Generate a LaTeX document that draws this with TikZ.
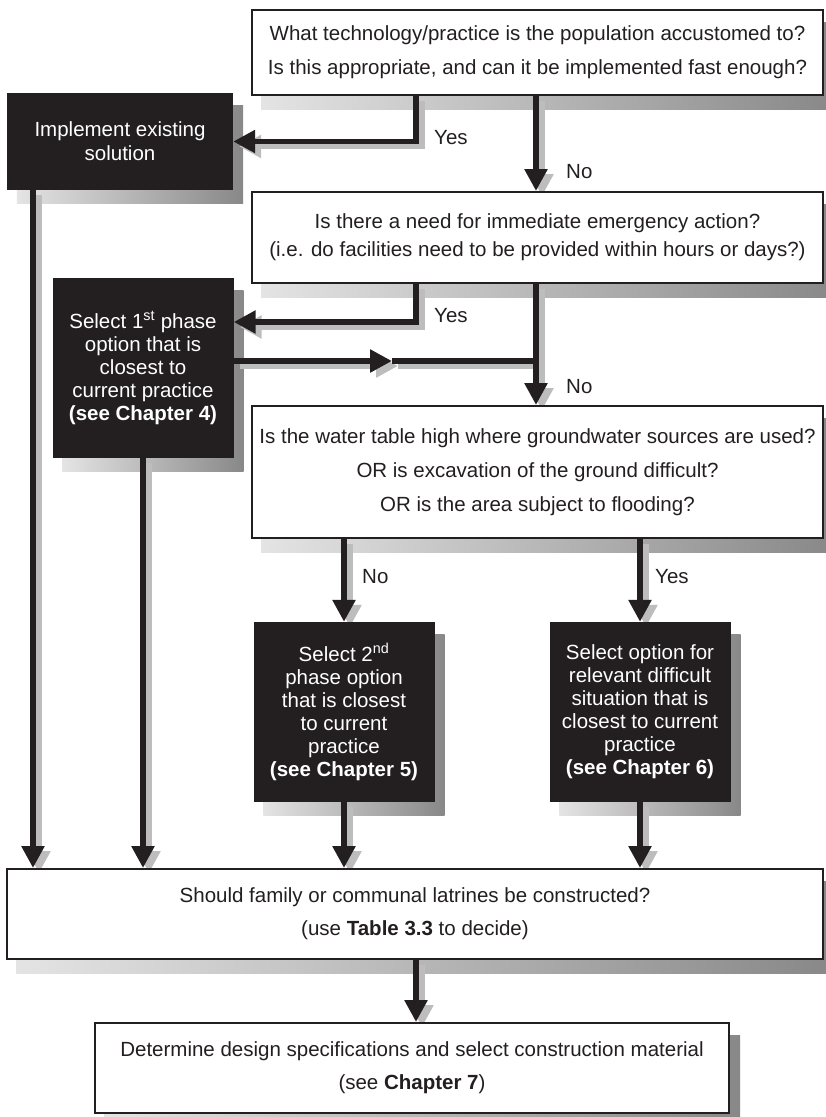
\documentclass[tikz,border=0pt]{standalone}
\usepackage{fontspec}
\setmainfont{Liberation Sans}
\usetikzlibrary{arrows.meta,backgrounds,calc}

\definecolor{ink}{HTML}{231F20}
\definecolor{shadelight}{HTML}{E4E4E4}
\definecolor{shadedark}{HTML}{888888}
\definecolor{lineshade}{HTML}{BDBDBD}

\newcommand{\qfont}[1]{\fontsize{20.5}{#1}\selectfont}

\tikzset{
  question/.style={draw=ink, line width=2pt, fill=white, text=ink, align=center, inner sep=0pt},
  action/.style={fill=ink, text=white, align=center, inner sep=0pt, minimum width=181pt, minimum height=180pt, font=\qfont{23}},
  conn/.style={draw=ink, line width=5.5pt, -{Triangle[length=22pt,width=22pt]}},
  connshade/.style={conn, draw=lineshade, transform canvas={shift={(6pt,-5pt)}}},
  answer/.style={text=ink, anchor=west, inner sep=0pt, font=\qfont{24}},
}

\begin{document}
\begin{tikzpicture}[x=1pt,y=-1pt]
  \useasboundingbox (0,0) rectangle (826,1117);

  % boxes
  \node[question, minimum width=571pt, minimum height=85pt, font=\qfont{34}] (q1) at (537.5,52.5)
    {What technology/practice is the population accustomed to?\\Is this appropriate, and can it be implemented fast enough?};
  \node[action, minimum width=226pt, minimum height=97pt, font=\qfont{24}] (impl) at (120,141.5)
    {Implement existing\\solution};
  \node[question, minimum width=571pt, minimum height=91pt, font=\qfont{28}] (q2) at (537.5,237.5)
    {Is there a need for immediate emergency action?\\(i.e. do facilities need to be provided within hours or days?)};
  \node[action] (sel1) at (143,368)
    {Select 1\textsuperscript{st} phase\\option that is\\closest to\\current practice\\\textbf{(see Chapter 4)}};
  \node[question, minimum width=571pt, minimum height=132pt, font=\qfont{34}] (q3) at (537.5,472)
    {Is the water table high where groundwater sources are used?\\OR is excavation of the ground difficult?\\OR is the area subject to flooding?};
  \node[action] (sel2) at (344,712)
    {Select 2\textsuperscript{nd}\\phase option\\that is closest\\to current\\practice\\\textbf{(see Chapter 5)}};
  \node[action] (sel3) at (640,712)
    {Select option for\\relevant difficult\\situation that is\\closest to current\\practice\\\textbf{(see Chapter 6)}};
  \node[question, minimum width=816pt, minimum height=90pt, font=\qfont{33}] (q4) at (415,914)
    {Should family or communal latrines be constructed?\\(use \textbf{Table 3.3} to decide)};
  \node[question, minimum width=634pt, minimum height=90pt, font=\qfont{33}] (spec) at (412,1068)
    {Determine design specifications and select construction material\\(see \textbf{Chapter 7})};

  % answers
  \node[answer] (yes1) at (434,138) {Yes};
  \node[answer] (no1) at (566,172) {No};
  \node[answer] (yes2) at (434,316) {Yes};
  \node[answer] (no2) at (566,387) {No};
  \node[answer] (no3) at (362,577) {No};
  \node[answer] (yes3) at (655,577) {Yes};

  \coordinate (ya) at (416,0);
  \coordinate (main) at (536,0);
  \coordinate (lx) at (33,0);
  \coordinate (midtip) at (392,361);
  \coordinate (join) at (536,361);

  % shadows
  \begin{scope}[on background layer]
    \foreach \nd in {q1,impl,q2,sel1,q3,sel2,sel3,q4,spec}
      \shade[left color=shadelight, right color=shadedark]
        ([shift={(10,13)}]\nd.north west) rectangle ([shift={(10,13)}]\nd.south east);
    \draw[connshade] (q1.south -| ya) |- (impl.east);
    \draw[connshade] (q1.south -| main) -- (q2.north -| main);
    \draw[connshade] (q2.south -| ya) |- ([yshift=46pt]sel1.east);
    \draw[connshade] ([yshift=7pt]sel1.east) -- (midtip);
    \draw[connshade,-] (midtip) -- (join);
    \draw[connshade] (q2.south -| main) -- (q3.north -| main);
    \draw[connshade] (q3.south -| sel2) -- (sel2.north);
    \draw[connshade] (q3.south -| sel3) -- (sel3.north);
    \draw[connshade] (impl.south -| lx) -- (q4.north -| lx);
    \draw[connshade] (sel1.south) -- (q4.north -| sel1);
    \draw[connshade] (sel2.south) -- (q4.north -| sel2);
    \draw[connshade] (sel3.south) -- (q4.north -| sel3);
    \draw[connshade] (q4.south -| ya) -- (spec.north -| ya);
  \end{scope}

  % connectors
  \draw[conn] (q1.south -| ya) |- (impl.east);
  \draw[conn] (q1.south -| main) -- (q2.north -| main);
  \draw[conn] (q2.south -| ya) |- ([yshift=46pt]sel1.east);
  \draw[conn] ([yshift=7pt]sel1.east) -- (midtip);
  \draw[conn,-] (midtip) -- (join);
  \draw[conn] (q2.south -| main) -- (q3.north -| main);
  \draw[conn] (q3.south -| sel2) -- (sel2.north);
  \draw[conn] (q3.south -| sel3) -- (sel3.north);
  \draw[conn] (impl.south -| lx) -- (q4.north -| lx);
  \draw[conn] (sel1.south) -- (q4.north -| sel1);
  \draw[conn] (sel2.south) -- (q4.north -| sel2);
  \draw[conn] (sel3.south) -- (q4.north -| sel3);
  \draw[conn] (q4.south -| ya) -- (spec.north -| ya);
\end{tikzpicture}
\end{document}
